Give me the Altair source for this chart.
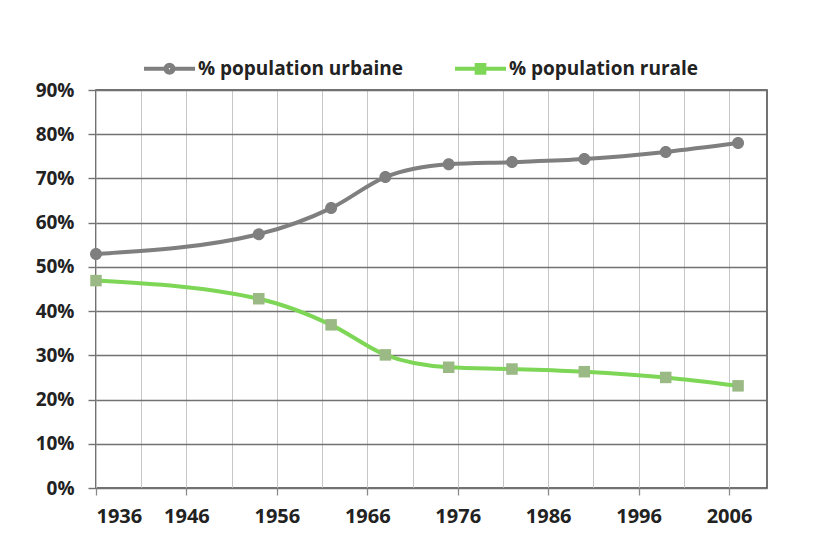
import altair as alt
import pandas as pd

# ---- data ----
years = [1936, 1954, 1962, 1968, 1975, 1982, 1990, 1999, 2007]
urbaine = [52.9, 57.4, 63.3, 70.3, 73.2, 73.7, 74.4, 76.0, 78.0]
rurale = [46.9, 42.8, 36.9, 30.1, 27.3, 26.9, 26.3, 25.0, 23.1]
series = ["% population urbaine", "% population rurale"]
x_ticks = list(range(1936, 2010, 5))
y_ticks = list(range(0, 91, 10))

rows = []
for yr, u, r in zip(years, urbaine, rurale):
    rows.append({"annee": yr, "valeur": u, "serie": series[0]})
    rows.append({"annee": yr, "valeur": r, "serie": series[1]})
df = pd.DataFrame(rows)

FONT = "Open Sans"
TXT = "#222222"
GRAY = "#7f7f7f"
GREEN = "#7dd655"
MARK_GREEN = "#9ab985"

circle_path = "M0,-0.24A0.24,0.24 0 1,1 0,0.24A0.24,0.24 0 1,1 0,-0.24Z"
square_path = "M-0.23,-0.23H0.23V0.23H-0.23Z"

# legend symbols (stroked): line + marker + line
seg = "M-1,0L-0.16,0M0.16,0L1,0"
leg_circle = (seg + "M0,-0.16A0.16,0.16 0 1,1 0,0.16A0.16,0.16 0 1,1 0,-0.16Z"
              "M0,-0.05A0.05,0.05 0 1,1 0,0.05A0.05,0.05 0 1,1 0,-0.05Z")
leg_square = (seg + "M-0.15,-0.15L0.15,-0.15L0.15,0.15L-0.15,0.15Z"
              "M-0.05,-0.05L0.05,-0.05L0.05,0.05L-0.05,0.05Z")

x_enc = alt.X(
    "annee:Q",
    title=None,
    scale=alt.Scale(domain=[1936, 2010.2], nice=False, zero=False),
    axis=alt.Axis(
        values=x_ticks,
        format="d",
        labelExpr="datum.value % 10 == 6 ? datum.label : ''",
        grid=True,
        gridColor="#c6c6c6",
        gridWidth=1,
        tickColor={"condition": {"test": "datum.value % 10 != 6", "value": "transparent"}, "value": "#8a8a8a"},
        tickSize=7,
        tickWidth=1.3,
        domain=False,
        labelPadding=11,
        labelFont=FONT,
        labelFontSize=20,
        labelFontWeight="bold",
        labelColor=TXT,
    ),
)

y_enc = alt.Y(
    "valeur:Q",
    title=None,
    scale=alt.Scale(domain=[0, 90], nice=False),
    axis=alt.Axis(
        values=y_ticks,
        labelExpr="datum.value + '%'",
        grid=True,
        gridColor="#727272",
        gridWidth=1.4,
        tickColor="#727272",
        tickWidth=1.4,
        tickSize=8,
        domain=False,
        labelPadding=14,
        labelFont=FONT,
        labelFontSize=19,
        labelFontWeight="bold",
        labelColor=TXT,
    ),
)

legend = alt.Legend(
    orient="none",
    legendX=46,
    legendY=-49,
    direction="horizontal",
    symbolType=alt.ExprRef(f"datum.value === '{series[0]}' ? '{leg_circle}' : '{leg_square}'"),
    symbolSize=2601,
    symbolStrokeWidth=4,
    labelFont=FONT,
    labelFontSize=19,
    labelFontWeight="bold",
    labelColor=TXT,
    labelLimit=400,
    labelOffset=1,
    columnPadding=44,
)

lines = alt.Chart(df).mark_line(interpolate="monotone", strokeWidth=4).encode(
    x=x_enc,
    y=y_enc,
    color=alt.Color(
        "serie:N",
        title=None,
        scale=alt.Scale(domain=series, range=[GRAY, GREEN]),
        legend=legend,
    ),
)

pts_urb = (
    alt.Chart(df)
    .transform_filter(alt.datum.serie == series[0])
    .mark_point(shape=circle_path, filled=True, opacity=1, size=2500, strokeWidth=0, color=GRAY)
    .encode(x=x_enc, y=y_enc)
)
pts_rur = (
    alt.Chart(df)
    .transform_filter(alt.datum.serie == series[1])
    .mark_point(shape=square_path, filled=True, opacity=1, size=2500, strokeWidth=0, color=MARK_GREEN)
    .encode(x=x_enc, y=y_enc)
)

chart = (
    alt.layer(lines, pts_urb, pts_rur)
    .properties(
        width=671,
        height=398,
        autosize=alt.AutoSizeParams(type="none"),
        padding={"left": 88, "top": 82, "right": 41, "bottom": 44},
        background="white",
    )
    .configure_view(stroke="#444444", strokeWidth=1.5)
)

chart.save("out.html", embed_options={"renderer": "svg", "actions": False})
